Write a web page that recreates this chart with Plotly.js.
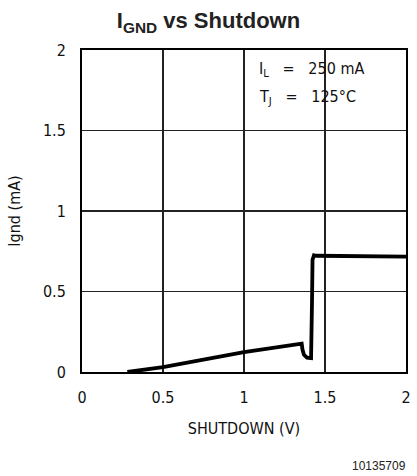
<!DOCTYPE html>
<html>
<head>
<meta charset="utf-8">
<script src="https://cdn.plot.ly/plotly-3.0.1.min.js"></script>
<style>html,body{margin:0;padding:0;background:#fff;}#chart{width:417px;height:476px;}</style>
</head>
<body>
<div id="chart"></div>
<script>
// Data
const shutdownV = [0.28, 0.5, 1.0, 1.356, 1.361, 1.370, 1.389, 1.414, 1.420, 1.423, 1.432, 1.444, 2.0];
const ignd_mA   = [0.0, 0.03, 0.124, 0.176, 0.139, 0.107, 0.089, 0.086, 0.449, 0.697, 0.725, 0.722, 0.716];
const xTickVals = [0, 0.5, 1, 1.5, 2];
const xTickText = ['0', '0.5', '1', '1.5', '2'];
const yTickVals = [0, 0.5, 1, 1.5, 2];
const yTickText = ['0', '0.5', '1', '1.5', '2'];

const tickFont = {family: 'DejaVu Sans Condensed, DejaVu Sans, sans-serif', size: 16, color: '#111'};

const trace = {
  x: shutdownV, y: ignd_mA, mode: 'lines', type: 'scatter',
  line: {color: '#000', width: 3.8, shape: 'linear'},
  hoverinfo: 'skip'
};

const layout = {
  width: 417, height: 476,
  margin: {l: 82, r: 11, t: 50, b: 104},
  paper_bgcolor: '#fff', plot_bgcolor: '#fff',
  showlegend: false,
  title: {
    text: '<b>I<sub>GND</sub> vs Shutdown</b>',
    font: {family: 'Liberation Sans, Arial, sans-serif', size: 22, color: '#222'},
    x: 0.5, xanchor: 'center', xref: 'container',
    y: 0.957, yanchor: 'middle', yref: 'container'
  },
  xaxis: {
    range: [0, 2], tickvals: xTickVals, ticktext: xTickText,
    showgrid: true, gridcolor: '#222', gridwidth: 1.3,
    showline: true, linecolor: '#000', linewidth: 2, mirror: true,
    zeroline: false, ticks: '', ticklabelstandoff: 10,
    tickfont: tickFont,
    title: {text: 'SHUTDOWN (V)', font: tickFont, standoff: 17}
  },
  yaxis: {
    range: [0, 2], tickvals: yTickVals, ticktext: yTickText,
    showgrid: true, gridcolor: '#222', gridwidth: 1.3,
    showline: true, linecolor: '#000', linewidth: 2, mirror: true,
    zeroline: false, ticks: '', ticklabelstandoff: 11,
    tickfont: tickFont,
    title: {text: 'Ignd (mA)', font: tickFont, standoff: 18}
  },
  shapes: [
    {type: 'rect', layer: 'between', xref: 'x', yref: 'paper',
     x0: 1.05, x1: 1.99, y0: 0.815, y1: 0.993,
     fillcolor: '#fff', line: {width: 0}}
  ],
  annotations: [
    {text: 'I<sub>L</sub>   =   250 mA', xref: 'paper', yref: 'paper', x: 0.54, y: 0.938,
     xanchor: 'left', yanchor: 'middle', showarrow: false, font: tickFont},
    {text: 'T<sub>J</sub>   =   125°C', xref: 'paper', yref: 'paper', x: 0.54, y: 0.852,
     xanchor: 'left', yanchor: 'middle', showarrow: false, font: tickFont},
    {text: '10135709', xref: 'paper', yref: 'paper', x: 1.005, y: -0.292,
     xanchor: 'right', yanchor: 'middle', showarrow: false,
     font: {family: 'Liberation Sans, Arial, sans-serif', size: 12, color: '#222'}}
  ]
};

Plotly.newPlot('chart', [trace], layout, {displayModeBar: false, staticPlot: true});
</script>
</body>
</html>
